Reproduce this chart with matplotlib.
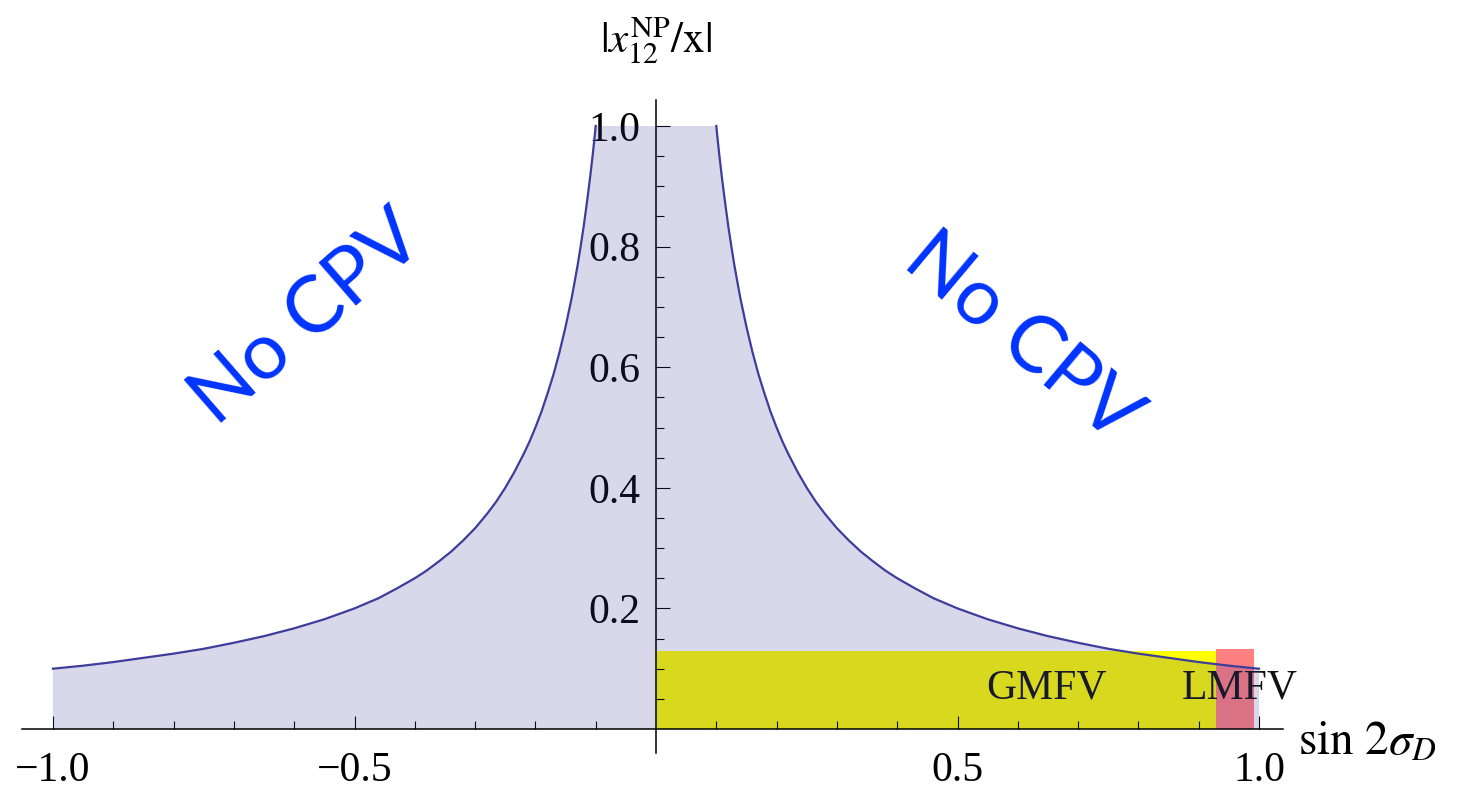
import matplotlib
matplotlib.use("Agg")
from matplotlib import pyplot as plt
from matplotlib.ticker import FixedLocator, FixedFormatter

plt.rcParams["font.family"] = ["Liberation Serif", "DejaVu Serif"]
plt.rcParams["mathtext.fontset"] = "stix"

# curve |x12NP/x| versus sin 2 sigma_D (right half, mirrored on the left)
S_RIGHT = [0.1, 0.102, 0.105, 0.108, 0.11, 0.115, 0.12, 0.125, 0.13, 0.135, 0.14,
           0.15, 0.16, 0.17, 0.18, 0.19, 0.2, 0.21, 0.22, 0.235, 0.25, 0.265, 0.28,
           0.3, 0.32, 0.34, 0.36, 0.38, 0.4, 0.43, 0.46, 0.5, 0.55, 0.6, 0.65, 0.7,
           0.75, 0.8, 0.85, 0.9, 0.95, 1.0]
R_RIGHT = [1.0, 0.980, 0.952, 0.926, 0.909, 0.870, 0.833, 0.800, 0.769, 0.741, 0.714,
           0.667, 0.625, 0.588, 0.556, 0.526, 0.500, 0.476, 0.455, 0.426, 0.400, 0.377, 0.357,
           0.333, 0.3125, 0.294, 0.278, 0.263, 0.250, 0.233, 0.217, 0.200, 0.182, 0.167, 0.154, 0.143,
           0.133, 0.125, 0.118, 0.111, 0.105, 0.100]
S_LEFT = [-s for s in S_RIGHT[::-1]]
R_LEFT = R_RIGHT[::-1]

# scenario boxes
SCENARIOS = ["GMFV", "LMFV"]
BOX_LEFT = [0.0, 0.929]
BOX_WIDTH = [0.929, 0.062]
BOX_HEIGHT = [0.130, 0.132]
BOX_COLORS = ["#FFFF00", "#FF8080"]

X_MAJOR = [-1.0, -0.5, 0.5, 1.0]
X_MINOR = [-0.9, -0.8, -0.7, -0.6, -0.4, -0.3, -0.2, -0.1,
           0.1, 0.2, 0.3, 0.4, 0.6, 0.7, 0.8, 0.9]
Y_MAJOR = [0.2, 0.4, 0.6, 0.8, 1.0]
Y_MINOR = [0.05, 0.1, 0.15, 0.25, 0.3, 0.35, 0.45, 0.5, 0.55,
           0.65, 0.7, 0.75, 0.85, 0.9, 0.95]

LINE_COLOR = "#3D3D9C"
TEXT_BLUE = "#0033FF"

fig = plt.figure(figsize=(14.6, 7.87), dpi=100)
ax = fig.add_axes([0, 0, 1, 1])
# pixel -> data mapping: x0 at 656 px, y0 at 729 px from top, 603 px per unit
ax.set_xlim((0 - 656) / 603, (1460 - 656) / 603)
ax.set_ylim((729 - 787) / 603, (729 - 0) / 603)

# boxes and their labels sit under the translucent region fill
ax.bar(BOX_LEFT, BOX_HEIGHT, width=BOX_WIDTH, align="edge", color=BOX_COLORS,
       linewidth=0, zorder=1)
ax.text(0.648, 0.068, SCENARIOS[0], fontsize=30, ha="center", va="center", color="#111111", zorder=2)
ax.text(0.968, 0.068, SCENARIOS[1], fontsize=30, ha="center", va="center", color="#111111", zorder=2)

xs = S_LEFT + S_RIGHT
ys = R_LEFT + R_RIGHT
ax.fill_between(xs, 0, ys, facecolor=(0.24, 0.24, 0.6), alpha=0.2, linewidth=0, zorder=3)
ax.plot(S_LEFT, R_LEFT, color=LINE_COLOR, lw=1.6, zorder=4)
ax.plot(S_RIGHT, R_RIGHT, color=LINE_COLOR, lw=1.6, zorder=4)

ax.text(-0.578, 0.679, "No CPV", fontsize=57, family="Lato", color=TEXT_BLUE,
        rotation=41, ha="center", va="center")
ax.text(0.606, 0.648, "No CPV", fontsize=57, family="Lato", color=TEXT_BLUE,
        rotation=-40, ha="center", va="center")

# axes crossing at the origin
for side in ["top", "right"]:
    ax.spines[side].set_visible(False)
ax.spines["left"].set_position(("data", 0))
ax.spines["bottom"].set_position(("data", 0))
ax.spines["left"].set_bounds(-0.04, 1.043)
ax.spines["bottom"].set_bounds(-1.051, 1.04)
for side in ["left", "bottom"]:
    ax.spines[side].set_linewidth(1.1)
    ax.spines[side].set_zorder(5)

ax.xaxis.set_major_locator(FixedLocator(X_MAJOR))
ax.xaxis.set_major_formatter(FixedFormatter(["\u22121.0", "\u22120.5", "0.5", "1.0"]))
ax.xaxis.set_minor_locator(FixedLocator(X_MINOR))
ax.yaxis.set_major_locator(FixedLocator(Y_MAJOR))
ax.yaxis.set_major_formatter(FixedFormatter(["0.2", "0.4", "0.6", "0.8", "1.0"]))
ax.yaxis.set_minor_locator(FixedLocator(Y_MINOR))
ax.tick_params(axis="x", which="major", direction="in", length=9.5, width=0.8, labelsize=30, pad=16)
ax.tick_params(axis="x", which="minor", direction="in", length=5.8, width=0.8)
ax.tick_params(axis="y", which="major", direction="in", length=10, width=0.8, labelsize=30, pad=11)
ax.tick_params(axis="y", which="minor", direction="in", length=5.5, width=0.8)

ax.text(0.0, 1.142, r"$|x_{12}^{\mathrm{NP}}/\mathrm{x}|$", fontsize=31, ha="center", va="center")
ax.text(1.065, -0.024, r"$\sin\,2\sigma_D$", fontsize=34, ha="left", va="center")

plt.savefig("out.png", dpi=100)
